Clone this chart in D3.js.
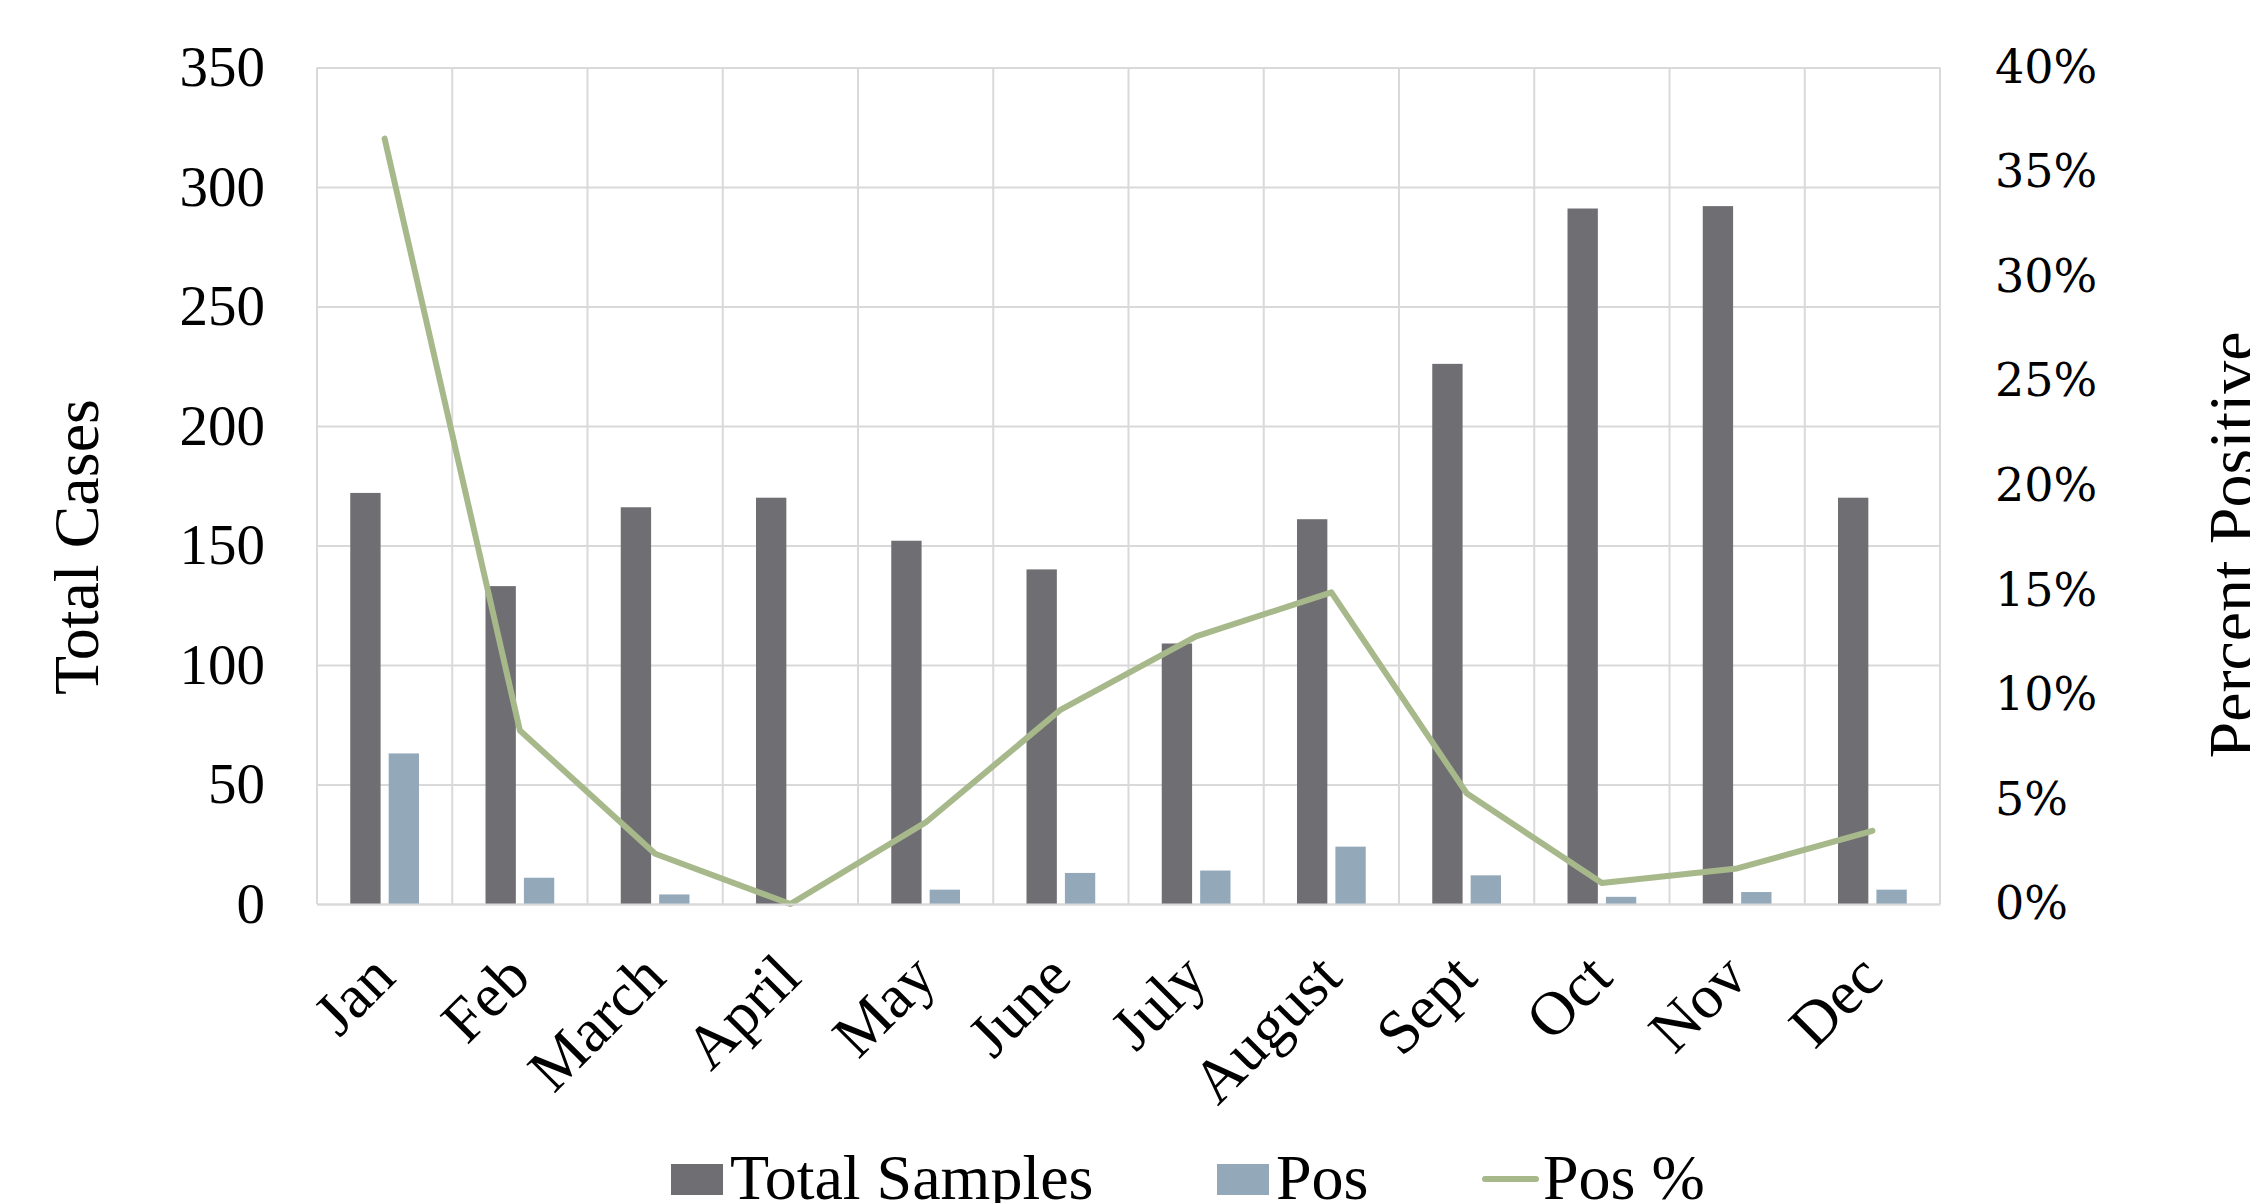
<!DOCTYPE html>
<html>
<head>
<meta charset="utf-8">
<script src="https://cdn.jsdelivr.net/npm/d3@7"></script>
<style>
  body { margin: 0; background: #fff; }
  svg { display: block; }
  .serif { font-family: "Liberation Serif", "Times New Roman", serif; fill: #000; }
</style>
</head>
<body>
<div id="chart"></div>
<script>
// data
const months = ["Jan", "Feb", "March", "April", "May", "June", "July", "August", "Sept", "Oct", "Nov", "Dec"];
const totalSamples = [172, 133, 166, 170, 152, 140, 109, 161, 226, 291, 292, 170];
const pos = [63, 11, 4, 0, 6, 13, 14, 24, 12, 3, 5, 6];
const posPct = [36.6, 8.3, 2.4, 0, 3.9, 9.3, 12.8, 14.9, 5.3, 1.0, 1.7, 3.5];
const leftTicks = [0, 50, 100, 150, 200, 250, 300, 350];
const rightTicks = [0, 5, 10, 15, 20, 25, 30, 35, 40];
const seriesNames = ["Total Samples", "Pos", "Pos %"];

const colors = {"Total Samples": "#6f6e73", "Pos": "#93a9b9", "Pos %": "#a7b98b"};
const gridColor = "#d9d9d9";

const W = 2250, H = 1203;
const margin = {top: 67.5, right: 310, bottom: 299, left: 317};
const width = W - margin.left - margin.right;
const height = H - margin.top - margin.bottom;

const svg = d3.select("#chart").append("svg")
    .attr("width", W)
    .attr("height", H);

const g = svg.append("g")
    .attr("transform", `translate(${margin.left},${margin.top})`);

// scales
const x = d3.scaleBand().domain(months).range([0, width]).padding(0);
const x1 = d3.scaleBand().domain(["Total Samples", "Pos"]).range([0, x.bandwidth()])
    .paddingInner(0.21).paddingOuter(0.866);
const y = d3.scaleLinear().domain([0, 350]).range([height, 0]);
const yR = d3.scaleLinear().domain([0, 40]).range([height, 0]);

// horizontal gridlines
g.append("g")
    .attr("class", "grid")
    .call(d3.axisLeft(y).tickValues(leftTicks).tickSize(-width).tickFormat(""))
    .call(s => s.select(".domain").remove())
    .call(s => s.selectAll("line").attr("stroke", gridColor).attr("stroke-width", 2));

// vertical gridlines at category boundaries
const bounds = months.map(m => x(m)).concat([width]);
g.append("g").selectAll("line")
    .data(bounds)
    .join("line")
    .attr("x1", d => d).attr("x2", d => d)
    .attr("y1", 0).attr("y2", height)
    .attr("stroke", gridColor)
    .attr("stroke-width", 2);

// bars
const rows = months.map((m, i) => ({month: m, "Total Samples": totalSamples[i], "Pos": pos[i]}));
g.append("g").selectAll("g")
    .data(rows)
    .join("g")
    .attr("transform", d => `translate(${x(d.month)},0)`)
    .selectAll("rect")
    .data(d => ["Total Samples", "Pos"].map(k => ({key: k, value: d[k]})))
    .join("rect")
    .attr("x", d => x1(d.key))
    .attr("width", x1.bandwidth())
    .attr("y", d => y(d.value))
    .attr("height", d => height - y(d.value))
    .attr("fill", d => colors[d.key]);

// line on the right axis
g.append("path")
    .datum(months.map((m, i) => ({month: m, v: posPct[i]})))
    .attr("fill", "none")
    .attr("stroke", colors["Pos %"])
    .attr("stroke-width", 6)
    .attr("stroke-linejoin", "round")
    .attr("stroke-linecap", "round")
    .attr("d", d3.line()
        .x(d => x(d.month) + x.bandwidth() / 2)
        .y(d => yR(d.v)));

// left axis
g.append("g")
    .call(d3.axisLeft(y).tickValues(leftTicks).tickSize(0).tickPadding(52))
    .call(s => s.select(".domain").remove())
    .selectAll("text")
    .attr("class", "serif")
    .style("font-size", "57px");

// right axis
g.append("g")
    .attr("transform", `translate(${width},0)`)
    .call(d3.axisRight(yR).tickValues(rightTicks).tickSize(0).tickPadding(55).tickFormat(d => d + "%"))
    .call(s => s.select(".domain").remove())
    .selectAll("text")
    .style("font-family", "'DejaVu Serif', serif")
    .style("font-size", "46px")
    .attr("fill", "#000");

// bottom axis with rotated month labels
g.append("g")
    .attr("transform", `translate(0,${height})`)
    .call(d3.axisBottom(x).tickSize(0))
    .call(s => s.select(".domain").attr("stroke", gridColor).attr("stroke-width", 2))
    .selectAll("text")
    .attr("class", "serif")
    .style("font-size", "62px")
    .attr("x", 0).attr("y", 0).attr("dy", 0)
    .attr("text-anchor", "end")
    .attr("transform", "translate(13,76) rotate(-45)");

// axis titles
svg.append("text")
    .attr("class", "serif")
    .attr("transform", "translate(98,547) rotate(-90)")
    .attr("text-anchor", "middle")
    .style("font-size", "64px")
    .text("Total Cases");

svg.append("text")
    .attr("class", "serif")
    .attr("transform", "translate(2254,545) rotate(-90)")
    .attr("text-anchor", "middle")
    .style("font-size", "66px")
    .text("Percent Positive");

// legend
const legendX = [671, 1217, 1483];
const legend = svg.append("g");
seriesNames.forEach((name, i) => {
    const item = legend.append("g").attr("transform", `translate(${legendX[i]},0)`);
    if (name === "Pos %") {
        item.append("line")
            .attr("x1", 2).attr("x2", 53)
            .attr("y1", 1179).attr("y2", 1179)
            .attr("stroke", colors[name])
            .attr("stroke-width", 6)
            .attr("stroke-linecap", "round");
    } else {
        item.append("rect")
            .attr("x", 0).attr("y", 1164)
            .attr("width", 52).attr("height", 31)
            .attr("fill", colors[name]);
    }
    item.append("text")
        .attr("class", "serif")
        .attr("x", name === "Pos %" ? 60 : 59)
        .attr("y", 1199)
        .style("font-size", "64px")
        .text(name);
});
</script>
</body>
</html>
